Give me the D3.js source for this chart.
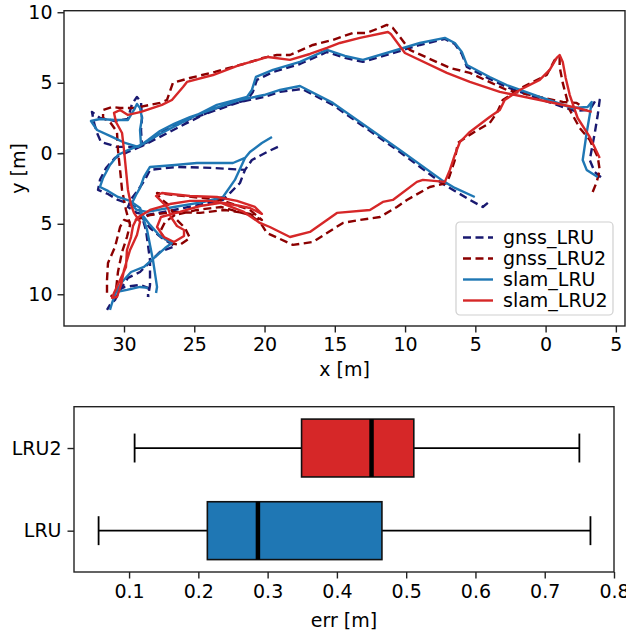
<!DOCTYPE html>
<html>
<head>
<meta charset="utf-8">
<script src="https://cdn.jsdelivr.net/npm/d3@7"></script>
<style>
  body { margin: 0; background: #fff; }
  text { font-family: "DejaVu Sans", sans-serif; fill: #000; }
</style>
</head>
<body>
<svg id="chart"></svg>
<script>
// ---- data (metres) ----
const xTicks = [-30, -25, -20, -15, -10, -5, 0, 5];
const yTicks = [-10, -5, 0, 5, 10];
const seriesNames = ["gnss_LRU", "gnss_LRU2", "slam_LRU", "slam_LRU2"];

const gnssLRU = [
  [[-4.11,-3.52],[-4.47,-3.81],[-5.39,-3.31],[-6.46,-2.67],[-7.31,-2.18],[-10.37,0.09],[-13.21,2.08],
   [-15.14,3.43],[-17.34,4.56],[-18.90,4.35],[-20.04,3.99],[-21.75,3.64],[-23.81,2.93],[-25.31,2.43],
   [-26.44,1.94],[-27.44,1.44],[-28.29,0.80],[-29.15,0.45],[-30.50,0.45],[-31.64,0.80],[-31.92,1.44],
   [-32.13,2.15],[-32.28,2.93],[-31.71,2.50],[-30.64,2.29],[-29.72,2.43],[-29.43,3.50],[-29.08,3.99],
   [-28.79,3.64],[-28.72,2.50],[-28.79,1.65],[-28.72,0.52],[-27.44,1.16],[-25.66,2.08],[-23.39,3.21],
   [-21.25,3.78],[-20.83,4.35],[-20.54,5.20],[-19.40,5.77],[-17.48,6.33],[-15.56,7.18],[-14.28,6.76],
   [-13.0,6.48],[-11.08,7.04],[-8.95,7.68],[-7.17,8.11],[-6.46,7.75],[-5.96,7.04],[-5.60,6.12],
   [-3.98,5.27],[-2.77,4.70],[-0.42,3.85],[2.06,3.00],[3.14,3.07],[3.57,3.78],[3.85,3.78],[3.71,2.72],
   [3.50,1.44],[3.14,-0.48],[3.50,-1.33],[3.99,-1.75]],
  [[-19.05,0.45],[-19.83,0.09],[-20.90,-0.48],[-21.39,-1.18],[-23.67,-1.04],[-26.23,-0.97],[-28.15,-1.18],
   [-28.51,-1.89],[-29.0,-2.60],[-29.43,-3.17],[-29.72,-3.81],[-29.08,-4.23],[-28.36,-4.38],[-26.44,-4.02],
   [-24.38,-3.60],[-22.96,-3.31],[-22.46,-2.82],[-21.75,-2.11],[-21.39,-1.18]],
  [[-28.72,0.52],[-29.72,0.09],[-30.64,-0.33],[-31.28,-1.04],[-31.71,-1.89],[-31.85,-2.60],[-31.14,-2.89],
   [-30.43,-3.31],[-29.57,-3.60],[-28.86,-4.02],[-28.44,-5.44],[-28.15,-7.57],[-28.15,-9.34],[-28.29,-10.19]],
  [[-28.86,-4.38],[-28.15,-5.30],[-27.30,-6.01],[-26.37,-6.58],[-27.44,-7.0],[-28.15,-7.71],[-28.86,-8.42],
   [-29.72,-8.84],[-30.28,-9.69],[-30.64,-10.40],[-31.0,-10.76],[-31.21,-11.11]],
  [[-30.43,-9.69],[-29.93,-9.48],[-28.86,-9.34],[-28.29,-9.55],[-28.29,-10.19]]
];

const gnssLRU2 = [
  [[3.35,-2.75],[3.64,-2.03],[3.85,-1.18],[3.71,-0.26],[3.14,0.94],[2.43,1.79],[1.72,3.07],[1.22,4.99],
   [1.0,6.12],[1.0,6.83],[0.65,6.62],[0.08,5.55],[-1.62,4.70],[-3.05,3.78],[-3.47,2.86],[-3.97,2.15],
   [-5.18,1.44],[-6.25,0.73],[-6.46,-0.48],[-6.81,-1.54],[-7.03,-2.11],[-8.24,-2.39],[-9.87,-3.31],
   [-10.58,-3.81],[-11.79,-4.52],[-13.21,-4.73],[-14.42,-4.94],[-16.56,-6.29],[-17.98,-6.50],[-19.83,-5.65],
   [-20.33,-4.87],[-21.04,-4.38],[-23.10,-3.81],[-24.81,-4.02],[-26.37,-4.38],[-27.08,-4.87],[-27.44,-5.58],
   [-26.87,-6.36],[-26.02,-6.50],[-25.31,-6.01],[-25.66,-5.30],[-26.37,-4.59],[-26.73,-3.74],[-27.44,-3.17],
   [-27.65,-2.82],[-26.44,-2.96],[-23.10,-3.31],[-21.04,-4.02],[-20.19,-4.73],[-21.04,-4.30],[-22.82,-4.02],
   [-24.59,-4.23],[-26.37,-4.16],[-28.15,-4.38],[-29.57,-4.87],[-30.0,-4.73],[-30.28,-5.23],[-30.64,-6.65],
   [-31.14,-7.78],[-31.21,-8.99],[-31.21,-9.91],[-30.78,-10.19],[-30.57,-9.69],[-30.43,-8.42],[-30.14,-7.0],
   [-29.79,-5.94],[-29.57,-5.08],[-29.86,-4.02],[-30.14,-2.60],[-30.28,-1.18],[-30.43,0.23],[-30.50,1.51],
   [-31.0,2.22],[-31.49,2.50],[-31.49,3.07],[-30.85,3.28],[-30.28,3.21],[-29.22,3.21],[-28.15,3.43],
   [-27.44,3.57],[-26.94,3.78],[-26.52,4.99],[-25.31,5.34],[-23.53,5.77],[-21.25,6.40],[-20.11,6.76],
   [-19.12,6.97],[-18.19,6.97],[-16.56,7.68],[-15.14,8.04],[-13.71,8.53],[-12.72,8.53],[-11.30,9.10],
   [-10.87,8.89],[-9.66,7.33],[-6.81,6.05],[-5.39,5.70],[-2.77,4.49],[1.22,3.64],[2.21,3.57],[2.64,3.28]]
];

const slamLRU = [
  [[-5.04,-3.10],[-6.46,-2.46],[-7.31,-1.96],[-10.37,0.23],[-13.21,2.22],[-15.14,3.57],[-17.48,4.77],
   [-18.90,4.49],[-20.04,4.13],[-21.75,3.78],[-23.81,3.07],[-25.31,2.57],[-26.44,2.08],[-27.44,1.58],
   [-28.29,0.94],[-29.0,0.45],[-29.93,0.73],[-30.85,1.16],[-31.92,1.65],[-32.35,2.29],[-31.71,2.43],
   [-30.64,2.36],[-29.72,2.36],[-29.29,3.07],[-29.08,3.50],[-28.86,3.21],[-28.72,2.50],[-28.86,1.65],
   [-28.79,0.59],[-27.44,1.37],[-25.66,2.29],[-23.39,3.43],[-21.25,3.99],[-20.90,4.49],[-20.61,5.41],
   [-19.40,5.91],[-17.48,6.48],[-15.56,7.33],[-14.28,6.90],[-13.0,6.62],[-11.08,7.18],[-8.95,7.82],
   [-7.17,8.18],[-6.46,7.82],[-5.96,7.18],[-5.60,6.26],[-3.98,5.41],[-2.77,4.84],[-0.42,3.99],[1.92,3.21],
   [2.99,3.28],[3.28,3.64],[3.14,2.72],[2.92,1.44],[2.64,-0.48],[2.92,-1.18],[3.71,-1.68]],
  [[-19.47,1.16],[-20.19,0.73],[-21.04,0.09],[-21.39,-0.33],[-22.25,-0.69],[-24.81,-0.69],[-26.37,-0.83],
   [-28.15,-0.97],[-28.58,-1.68],[-28.86,-2.46],[-29.15,-2.96],[-29.50,-3.67],[-29.08,-4.02],[-28.36,-4.16],
   [-26.44,-3.81],[-24.31,-3.45],[-22.96,-3.10],[-22.11,-1.89],[-21.39,-0.33]],
  [[-28.79,0.59],[-29.72,0.23],[-30.43,-0.12],[-31.0,-0.83],[-31.49,-1.75],[-31.71,-2.39],[-31.14,-2.67],
   [-30.43,-3.10],[-29.57,-3.38],[-28.86,-3.88],[-28.36,-5.44],[-27.94,-7.57],[-27.65,-9.48],[-27.72,-9.91]],
  [[-28.86,-4.16],[-28.15,-5.08],[-27.44,-5.87],[-26.59,-6.36],[-27.08,-6.72],[-27.87,-7.43],[-28.58,-8.06],
   [-29.50,-8.42],[-30.14,-9.13],[-30.57,-9.84],[-30.85,-10.62],[-31.0,-11.11]],
  [[-30.57,-9.84],[-29.79,-9.69],[-28.86,-9.48],[-28.29,-9.55]]
];

const slamLRU2 = [
  [[3.85,-0.33],[3.14,1.16],[2.28,2.50],[1.72,4.13],[1.43,5.34],[1.22,6.48],[1.0,6.97],[0.79,6.76],
   [0.29,5.91],[-0.42,5.20],[-1.84,4.49],[-2.91,3.78],[-3.26,3.07],[-3.98,2.57],[-5.39,1.51],[-6.10,0.80],
   [-6.46,-0.12],[-6.81,-1.18],[-7.17,-2.03],[-8.73,-1.89],[-9.16,-2.03],[-10.87,-3.31],[-11.58,-3.45],
   [-12.50,-4.02],[-14.85,-4.23],[-16.77,-5.58],[-18.19,-5.94],[-19.62,-5.23],[-20.33,-4.94],[-21.47,-4.16],
   [-23.10,-3.52],[-24.59,-3.74],[-26.02,-4.16],[-27.37,-4.52],[-27.65,-5.23],[-27.16,-5.94],[-26.44,-6.29],
   [-25.73,-5.87],[-25.73,-5.44],[-26.23,-5.16],[-26.66,-4.52],[-26.87,-3.88],[-27.44,-3.31],[-27.72,-3.03],
   [-27.30,-2.82],[-25.31,-3.03],[-23.39,-3.10],[-21.96,-3.38],[-20.68,-3.81],[-20.19,-4.30],[-21.04,-3.88],
   [-22.46,-3.60],[-23.88,-3.38],[-25.31,-3.38],[-26.73,-3.60],[-28.15,-4.02],[-29.08,-4.59],[-29.36,-5.16],
   [-29.50,-5.94],[-29.79,-6.86],[-29.86,-8.06],[-30.28,-8.99],[-30.71,-9.91],[-30.85,-10.26],[-30.50,-10.19],
   [-30.21,-9.34],[-30.0,-8.28],[-29.57,-6.86],[-29.08,-5.79],[-28.86,-4.87],[-29.29,-4.23],[-29.50,-3.67],
   [-29.72,-2.60],[-29.86,-1.18],[-30.0,0.23],[-30.14,1.44],[-30.57,2.22],[-30.71,2.86],[-30.28,3.07],
   [-29.72,2.72],[-28.79,2.93],[-27.30,3.43],[-26.59,3.78],[-25.80,4.70],[-25.52,5.06],[-23.67,5.55],
   [-21.75,6.26],[-19.76,6.83],[-18.19,6.62],[-16.77,7.04],[-15.56,7.47],[-14.64,7.82],[-13.21,8.18],
   [-11.22,8.60],[-11.01,8.46],[-10.01,7.11],[-7.03,5.70],[-5.39,5.06],[-3.26,4.35],[-0.42,3.78],
   [2.28,3.21],[3.28,2.93]]
];

// box plot stats (err [m])
const boxCategories = ["LRU", "LRU2"];
const boxLow    = [0.056, 0.108];
const boxQ1     = [0.213, 0.349];
const boxMedian = [0.286, 0.450];
const boxQ3     = [0.465, 0.511];
const boxHigh   = [0.766, 0.750];
const errTicks  = [0.1, 0.2, 0.3, 0.4, 0.5, 0.6, 0.7, 0.8];

// ---- styles ----
const styles = {
  gnss_LRU:  { color: "#191970", dash: "8,4.5" },
  gnss_LRU2: { color: "#8b0000", dash: "8,4.5" },
  slam_LRU:  { color: "#1f77b4", dash: null },
  slam_LRU2: { color: "#d62728", dash: null }
};
const boxColors = ["#1f77b4", "#d62728"];
const fontSize = 19;

const W = 626, H = 634;
const svg = d3.select("#chart").attr("width", W).attr("height", H);

// ---- top: trajectories ----
const trajBox = { left: 64, right: 625, top: 10.7, bottom: 326 };
const x = d3.scaleLinear().domain([-34.27, 5.65]).range([trajBox.left, trajBox.right]);
const y = d3.scaleLinear().domain([-12.25, 10.11]).range([trajBox.bottom, trajBox.top]);

const g1 = svg.append("g");
const line = d3.line().x(d => x(d[0])).y(d => y(d[1]));

const allSeries = [gnssLRU, gnssLRU2, slamLRU, slamLRU2];
allSeries.forEach((segs, i) => {
  const st = styles[seriesNames[i]];
  g1.append("g").selectAll("path")
    .data(segs)
    .enter()
    .append("path")
    .attr("d", line)
    .attr("fill", "none")
    .attr("stroke", st.color)
    .attr("stroke-width", 2.4)
    .attr("stroke-linejoin", "round")
    .attr("stroke-dasharray", st.dash);
});

const fmtAbs = d => String(Math.abs(d)); // picture shows the numbers without minus signs

g1.append("g")
  .attr("transform", `translate(0,${trajBox.bottom})`)
  .call(d3.axisBottom(x).tickValues(xTicks).tickFormat(fmtAbs).tickSize(6.5).tickPadding(5))
  .call(a => a.select(".domain").remove());

g1.append("g")
  .attr("transform", `translate(${trajBox.left},0)`)
  .call(d3.axisLeft(y).tickValues(yTicks).tickFormat(fmtAbs).tickSize(6.5).tickPadding(5))
  .call(a => a.select(".domain").remove());

g1.append("rect")
  .attr("x", trajBox.left).attr("y", trajBox.top)
  .attr("width", trajBox.right - trajBox.left).attr("height", trajBox.bottom - trajBox.top)
  .attr("fill", "none").attr("stroke", "#222").attr("stroke-width", 1.4);

g1.append("text")
  .attr("x", (trajBox.left + trajBox.right) / 2).attr("y", 376)
  .attr("text-anchor", "middle")
  .text("x [m]");

g1.append("text")
  .attr("transform", `translate(25,${(trajBox.top + trajBox.bottom) / 2}) rotate(-90)`)
  .attr("text-anchor", "middle")
  .text("y [m]");

// legend
const leg = g1.append("g").attr("transform", "translate(456,222)");
leg.append("rect")
  .attr("width", 157).attr("height", 93).attr("rx", 4)
  .attr("fill", "#fff").attr("fill-opacity", 0.8)
  .attr("stroke", "#d0d0d0").attr("stroke-width", 1.2);
seriesNames.forEach((name, i) => {
  const st = styles[name];
  const cy = 15.5 + i * 21;
  leg.append("line")
    .attr("x1", 7).attr("x2", 37).attr("y1", cy).attr("y2", cy)
    .attr("stroke", st.color).attr("stroke-width", 2.4)
    .attr("stroke-dasharray", st.dash);
  leg.append("text")
    .attr("x", 47).attr("y", cy).attr("dy", "0.35em")
    .text(name);
});

// ---- bottom: box plot ----
const bot = { left: 74, right: 614, top: 406.7, bottom: 572 };
const xb = d3.scaleLinear().domain([0.0205, 0.8]).range([bot.left, bot.right]);
const yb = d3.scaleLinear().domain([0.5, 2.5]).range([bot.bottom, bot.top]);
const g2 = svg.append("g");
const boxHalf = 0.35;

boxCategories.forEach((cat, i) => {
  const pos = i + 1;
  const cy = yb(pos);
  const bh = yb(pos - boxHalf) - yb(pos + boxHalf);
  // whiskers
  g2.append("line").attr("x1", xb(boxLow[i])).attr("x2", xb(boxQ1[i]))
    .attr("y1", cy).attr("y2", cy).attr("stroke", "#000").attr("stroke-width", 1.8);
  g2.append("line").attr("x1", xb(boxQ3[i])).attr("x2", xb(boxHigh[i]))
    .attr("y1", cy).attr("y2", cy).attr("stroke", "#000").attr("stroke-width", 1.8);
  // caps
  [boxLow[i], boxHigh[i]].forEach(v => {
    g2.append("line").attr("x1", xb(v)).attr("x2", xb(v))
      .attr("y1", cy - bh / 4).attr("y2", cy + bh / 4)
      .attr("stroke", "#000").attr("stroke-width", 1.8);
  });
  // box
  g2.append("rect")
    .attr("x", xb(boxQ1[i])).attr("y", cy - bh / 2)
    .attr("width", xb(boxQ3[i]) - xb(boxQ1[i])).attr("height", bh)
    .attr("fill", boxColors[i]).attr("stroke", "#111").attr("stroke-width", 1.6);
  // median
  g2.append("line").attr("x1", xb(boxMedian[i])).attr("x2", xb(boxMedian[i]))
    .attr("y1", cy - bh / 2).attr("y2", cy + bh / 2)
    .attr("stroke", "#000").attr("stroke-width", 4.5);
});

g2.append("g")
  .attr("transform", `translate(0,${bot.bottom})`)
  .call(d3.axisBottom(xb).tickValues(errTicks).tickFormat(d3.format(".1f")).tickSize(6.5).tickPadding(6))
  .call(a => a.select(".domain").remove());

g2.append("g")
  .attr("transform", `translate(${bot.left},0)`)
  .call(d3.axisLeft(yb).tickValues([1, 2]).tickFormat(d => boxCategories[d - 1]).tickSize(6.5).tickPadding(6))
  .call(a => a.select(".domain").remove());

g2.append("rect")
  .attr("x", bot.left).attr("y", bot.top)
  .attr("width", bot.right - bot.left).attr("height", bot.bottom - bot.top)
  .attr("fill", "none").attr("stroke", "#222").attr("stroke-width", 1.4);

g2.append("text")
  .attr("x", (bot.left + bot.right) / 2).attr("y", 627)
  .attr("text-anchor", "middle")
  .text("err [m]");

// shared tick/label styling
svg.selectAll(".tick line").attr("stroke", "#222").attr("stroke-width", 1.4);
svg.selectAll(".tick text").attr("font-family", "DejaVu Sans").attr("fill", "#000");
svg.selectAll("text").style("font-size", fontSize + "px");
</script>
</body>
</html>
